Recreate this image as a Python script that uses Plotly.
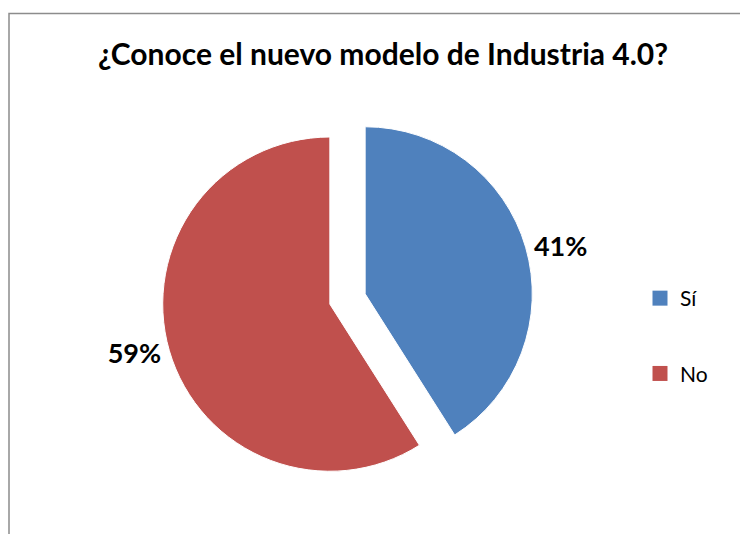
import plotly.graph_objects as go

categories = ["Sí", "No"]
values = [41, 59]
colors = ["#4F81BD", "#C0504D"]
title_text = "¿Conoce el nuevo modelo de Industria 4.0?"

W, H = 748, 534
OFF = 8  # page body margin


def px(x):
    return (x - OFF) / W


def py(y):
    return 1 - (y - OFF) / H


cx, cy, half = 347.5, 299, 185.5

fig = go.Figure()
fig.add_trace(go.Pie(
    labels=categories,
    values=values,
    sort=False,
    direction="clockwise",
    rotation=0,
    pull=[0.11, 0.11],
    marker=dict(colors=colors, line=dict(color="white", width=1)),
    textinfo="percent",
    texttemplate="%{percent:.0%}",
    textposition="outside",
    textfont=dict(family="Lato", size=27, color="black", weight="bold"),
    domain=dict(x=[px(cx - half), px(cx + half)], y=[py(cy + half), py(cy - half)]),
    hoverinfo="label+percent",
    showlegend=False,
))

for i, (cat, col) in enumerate(zip(categories, colors)):
    fig.add_trace(go.Scatter(
        x=[None], y=[None], mode="markers", name=cat, legendgroup=f"g{i}",
        marker=dict(symbol="square", size=15, color=col), showlegend=True, hoverinfo="skip",
    ))

fig.update_layout(
    width=W, height=H,
    margin=dict(l=0, r=0, t=0, b=0),
    paper_bgcolor="white",
    plot_bgcolor="rgba(0,0,0,0)",
    xaxis=dict(visible=False),
    yaxis=dict(visible=False),
    title=dict(text=f"<b>{title_text}</b>", x=px(383), xanchor="center", y=py(54), yanchor="middle",
               font=dict(family="Lato", size=30, color="black")),
    legend=dict(x=px(640), xanchor="left", y=py(336), yanchor="middle", tracegroupgap=45,
                font=dict(family="Lato", size=21, color="black"), bgcolor="rgba(0,0,0,0)"),
    shapes=[dict(type="rect", xref="paper", yref="paper", x0=px(9), x1=1.05, y0=-0.05, y1=py(13.5),
                 line=dict(color="#8C8C8C", width=1.5), fillcolor="rgba(0,0,0,0)", layer="below")],
)

fig.write_html("out.html")
